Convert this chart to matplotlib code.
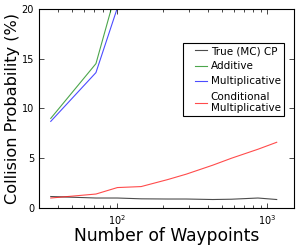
import numpy as np
import matplotlib
matplotlib.use('Agg')
import matplotlib.pyplot as plt
from matplotlib.legend_handler import HandlerLine2D

# number of waypoints
waypoints = [36, 72, 100, 144, 216, 288, 432, 576, 864, 1152]

# collision probability, %
cp_true = [1.15, 1.0, 1.0, 0.92, 0.9, 0.9, 0.85, 0.88, 1.0, 0.85]
cp_additive = [9.0, 14.5, 22.2, 30.0, 40.0, 50.0, 60.0, 70.0, 80.0, 90.0]
cp_multiplicative = [8.7, 13.6, 20.1, 27.0, 36.0, 45.0, 55.0, 65.0, 75.0, 85.0]
cp_conditional = [1.0, 1.4, 2.05, 2.15, 2.85, 3.4, 4.3, 5.0, 5.9, 6.6]

labels = ['True (MC) CP', 'Additive', 'Multiplicative',
          'Conditional\nMultiplicative']

fig = plt.figure(figsize=(2.99, 2.47), dpi=100)
ax = fig.add_axes([0.130, 0.158, 0.853, 0.806])

ax.plot(waypoints, cp_true, color='k', alpha=0.7, lw=0.8, label=labels[0])
ax.plot(waypoints, cp_additive, color='g', alpha=0.7, lw=0.8, label=labels[1])
ax.plot(waypoints, cp_multiplicative, color='b', alpha=0.7, lw=0.8, label=labels[2])
ax.plot(waypoints, cp_conditional, color='r', alpha=0.7, lw=0.8, label=labels[3])

ax.set_xscale('log')
ax.set_xlim(30, 1500)
ax.set_ylim(0, 20)
ax.set_yticks([0, 5, 10, 15, 20])
ax.tick_params(which='both', direction='in', top=True, right=True, labelsize=7)
ax.tick_params(which='major', length=3.5, width=0.5)
ax.tick_params(which='minor', length=2, width=0.5)
for s in ax.spines.values():
    s.set_linewidth(0.8)

ax.set_xlabel('Number of Waypoints', fontsize=12.3, labelpad=0)
ax.set_ylabel('Collision Probability (%)', fontsize=11.6, labelpad=1)

leg = ax.legend(loc='upper right', bbox_to_anchor=(0.961, 0.829),
                borderaxespad=0, fontsize=7.5, fancybox=False,
                handlelength=2.0, handletextpad=0.4, borderpad=0.3,
                framealpha=1,
                handler_map={plt.Line2D: HandlerLine2D(xpad=0.85)})
leg.get_frame().set_edgecolor('k')
leg.get_frame().set_linewidth(0.8)

plt.savefig('out.png', dpi=100)
